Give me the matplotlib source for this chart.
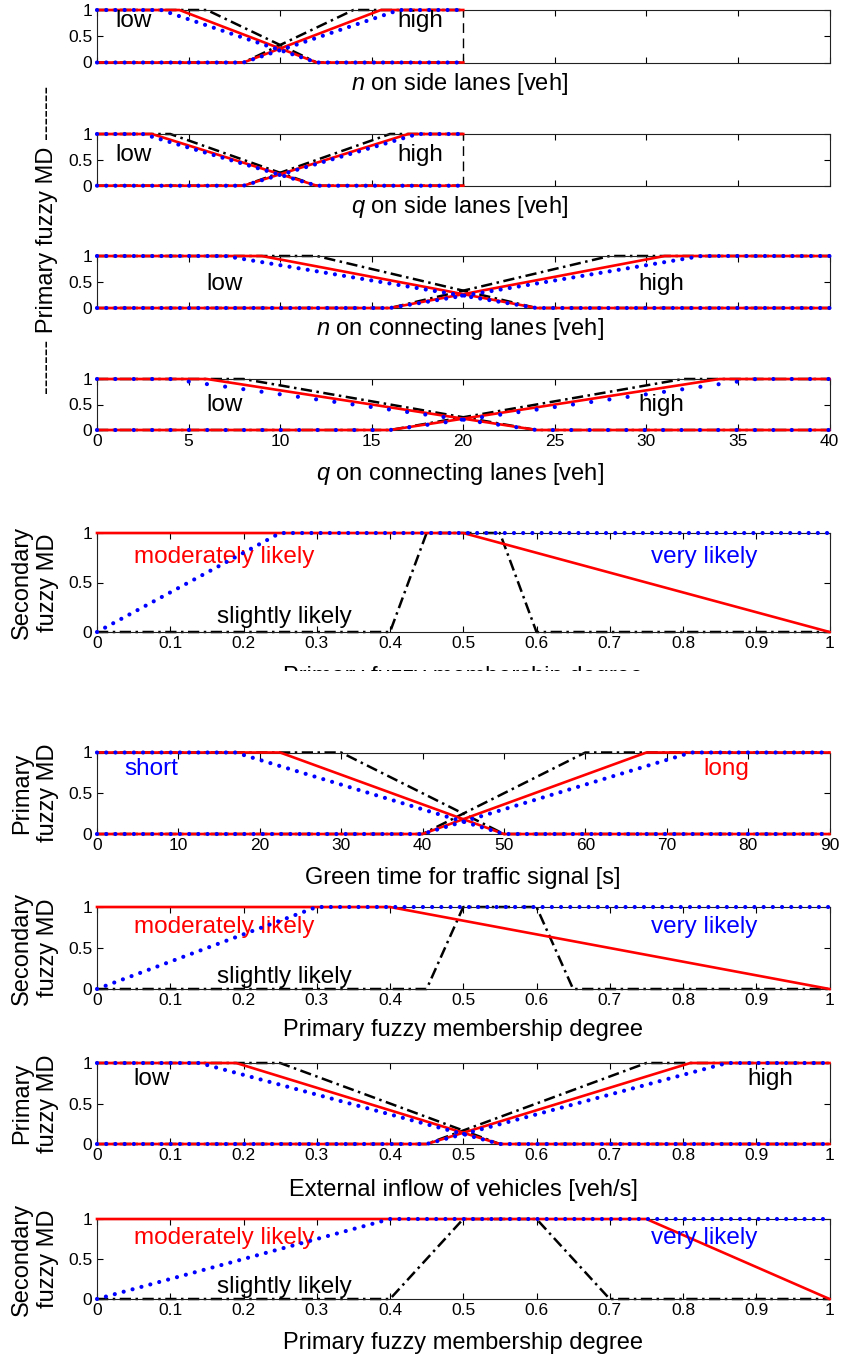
import matplotlib
matplotlib.use("Agg")
import matplotlib.pyplot as plt
from matplotlib.patches import Rectangle

plt.rcParams['font.family'] = ['Liberation Sans', 'DejaVu Sans']
plt.rcParams['mathtext.fontset'] = 'custom'
plt.rcParams['mathtext.it'] = 'Liberation Sans:italic'
plt.rcParams['mathtext.rm'] = 'Liberation Sans'

W, H = 841, 1359

# primary MFs: low = (end of plateau at 1, reaches 0), high = (leaves 0, reaches 1)
n_side_low = {'black': (6, 12), 'red': (4.5, 12), 'blue': (3.5, 12)}
n_side_high = {'black': (8, 14), 'red': (8, 15.5), 'blue': (8, 16.5)}
q_side_low = {'black': (4, 12), 'red': (3, 12), 'blue': (2.5, 12)}
q_side_high = {'black': (8, 16), 'red': (8, 17), 'blue': (8, 17.5)}
n_conn_low = {'black': (12, 24), 'red': (9, 24), 'blue': (7, 24)}
n_conn_high = {'black': (16, 28), 'red': (16, 31), 'blue': (16, 33)}
q_conn_low = {'black': (8, 24), 'red': (6, 24), 'blue': (4, 24)}
q_conn_high = {'black': (16, 32), 'red': (16, 34), 'blue': (16, 36)}
green_low = {'black': (30, 50), 'red': (22.5, 50), 'blue': (17, 50)}
green_high = {'black': (40, 60), 'red': (40, 67.5), 'blue': (40, 73)}
inflow_low = {'black': (0.25, 0.55), 'red': (0.19, 0.55), 'blue': (0.14, 0.55)}
inflow_high = {'black': (0.45, 0.75), 'red': (0.45, 0.81), 'blue': (0.45, 0.86)}

# secondary MFs (x, y breakpoints)
sec_a_red = ([0, 0.5, 1], [1, 1, 0])
sec_a_blue = ([0, 0.25, 1], [0, 1, 1])
sec_a_black = ([0, 0.4, 0.45, 0.55, 0.6, 1], [0, 0, 1, 1, 0, 0])
sec_b_red = ([0, 0.4, 1], [1, 1, 0])
sec_b_blue = ([0, 0.3, 1], [0, 1, 1])
sec_b_black = ([0, 0.45, 0.5, 0.6, 0.65, 1], [0, 0, 1, 1, 0, 0])
sec_c_red = ([0, 0.75, 1], [1, 1, 0])
sec_c_blue = ([0, 0.4, 1], [0, 1, 1])
sec_c_black = ([0, 0.4, 0.5, 0.6, 0.7, 1], [0, 0, 1, 1, 0, 0])

ticks_40 = [0, 5, 10, 15, 20, 25, 30, 35, 40]
ticks_90 = [0, 10, 20, 30, 40, 50, 60, 70, 80, 90]
ticks_1 = [0, 0.1, 0.2, 0.3, 0.4, 0.5, 0.6, 0.7, 0.8, 0.9, 1]
ticks_1_lbl = ['0', '0.1', '0.2', '0.3', '0.4', '0.5', '0.6', '0.7', '0.8', '0.9', '1']

RED = '#ff0000'
BLUE = '#0000ff'

fig = plt.figure(figsize=(W / 100, H / 100), dpi=100)


def make_ax(top, bottom):
    ax = fig.add_axes([97 / W, 1 - bottom / H, 732.5 / W, (bottom - top) / H])
    ax.set_ylim(0, 1)
    ax.set_yticks([0, 0.5, 1])
    ax.set_yticklabels(['0', '0.5', '1'])
    ax.tick_params(direction='in', top=True, right=True, length=4, width=0.8,
                   labelsize=12.5, pad=3)
    ax.tick_params(axis='y', pad=3.5)
    for s in ax.spines.values():
        s.set_linewidth(0.8)
        s.set_color('#222222')
    return ax


def black_line(ax, x, y):
    ax.plot(x, y, color='black', lw=1.8, ls=(0, (4.5, 1.8, 1, 1.8)), zorder=2, clip_on=False)


def red_line(ax, x, y):
    ax.plot(x, y, color=RED, lw=1.9, zorder=3, clip_on=False)


def blue_line(ax, x, y, gap=2.2):
    ax.plot(x, y, color=BLUE, lw=3, ls=(0, (0.01, gap)), dash_capstyle='round',
            zorder=4, clip_on=False)


def primary(ax, low, high, x0, x1, gap=2.2):
    for c in ['black', 'red', 'blue']:
        a, b = low[c]
        c0, d = high[c]
        xl, yl = [x0, a, b, x1], [1, 1, 0, 0]
        xh, yh = [x0, c0, d, x1], [0, 0, 1, 1]
        if c == 'blue':
            blue_line(ax, xl, yl, gap)
            blue_line(ax, xh, yh, gap)
        elif c == 'red':
            red_line(ax, xl, yl)
            red_line(ax, xh, yh)
        else:
            black_line(ax, xl, yl)
            black_line(ax, xh, yh)


def secondary(ax, red, blue, black):
    black_line(ax, *black)
    red_line(ax, *red)
    blue_line(ax, *blue, gap=2.2)
    ax.set_xlim(0, 1)
    ax.set_xticks(ticks_1)
    ax.set_xticklabels(ticks_1_lbl)
    ax.text(0.05, 0.76, 'moderately likely', color=RED, fontsize=17.5,
            transform=ax.transAxes, va='center')
    ax.text(0.756, 0.76, 'very likely', color=BLUE, fontsize=17.5,
            transform=ax.transAxes, va='center')
    ax.text(0.164, 0.15, 'slightly likely', color='black', fontsize=17.5,
            transform=ax.transAxes, va='center')


def fig_text(x, y, s, **kw):
    fig.text(x / W, 1 - y / H, s, ha='center', va='center', fontsize=17, **kw)


# panels 1-4: primary MFs on lanes
boxes = [(10, 62.5), (134, 185.7), (256, 308), (379, 430)]
lows = [n_side_low, q_side_low, n_conn_low, q_conn_low]
highs = [n_side_high, q_side_high, n_conn_high, q_conn_high]
ends = [20, 20, 40, 40]
gaps = [2.2, 2.2, 2.2, 4.4]
label_pos = [(0.025, 0.79, 0.41), (0.025, 0.59, 0.41), (0.15, 0.47, 0.739), (0.15, 0.49, 0.739)]
xlabels = ['$n$ on side lanes [veh]', '$q$ on side lanes [veh]',
           '$n$ on connecting lanes [veh]', '$q$ on connecting lanes [veh]']
xlabel_y = [84, 207, 329, 474]
for i in range(4):
    ax = make_ax(*boxes[i])
    primary(ax, lows[i], highs[i], 0, ends[i], gaps[i])
    ax.set_xlim(0, 40)
    ax.set_xticks(ticks_40)
    if i < 3:
        ax.set_xticklabels([])
    if ends[i] == 20:
        ax.plot([20, 20], [0, 1], color='black', lw=1, ls=(0, (7, 4)), zorder=1)
    lx, ly, hx = label_pos[i]
    ax.text(lx, ly, 'low', fontsize=17.5, transform=ax.transAxes, va='center')
    ax.text(hx, ly, 'high', fontsize=17.5, transform=ax.transAxes, va='center')
    fig_text(460, xlabel_y[i], xlabels[i])

fig_text(47, 240, '------- Primary fuzzy MD -------', rotation=90)

# panel 5: secondary MFs
ax = make_ax(533, 632)
secondary(ax, sec_a_red, sec_a_blue, sec_a_black)
fig_text(35, 582.5, 'Secondary\nfuzzy MD', rotation=90)
fig_text(463, 677, 'Primary fuzzy membership degree')
fig.add_artist(Rectangle((0, 1 - 745 / H), 1, (745 - 671) / H, transform=fig.transFigure,
                         facecolor='white', edgecolor='none', zorder=10))

# panel 6: green time
ax = make_ax(752.5, 834)
primary(ax, green_low, green_high, 0, 90)
ax.set_xlim(0, 90)
ax.set_xticks(ticks_90)
ax.text(0.037, 0.8, 'short', color=BLUE, fontsize=17.5, transform=ax.transAxes, va='center')
ax.text(0.828, 0.8, 'long', color=RED, fontsize=17.5, transform=ax.transAxes, va='center')
fig_text(35, 793, 'Primary\nfuzzy MD', rotation=90)
fig_text(463, 878, 'Green time for traffic signal [s]')

# panel 7
ax = make_ax(907, 989)
secondary(ax, sec_b_red, sec_b_blue, sec_b_black)
fig_text(35, 948, 'Secondary\nfuzzy MD', rotation=90)
fig_text(463, 1030, 'Primary fuzzy membership degree')

# panel 8: external inflow
ax = make_ax(1063, 1144)
primary(ax, inflow_low, inflow_high, 0, 1)
ax.set_xlim(0, 1)
ax.set_xticks(ticks_1)
ax.set_xticklabels(ticks_1_lbl)
ax.text(0.05, 0.8, 'low', fontsize=17.5, transform=ax.transAxes, va='center')
ax.text(0.888, 0.8, 'high', fontsize=17.5, transform=ax.transAxes, va='center')
fig_text(35, 1103.5, 'Primary\nfuzzy MD', rotation=90)
fig_text(463, 1190, 'External inflow of vehicles [veh/s]')

# panel 9
ax = make_ax(1219, 1299)
secondary(ax, sec_c_red, sec_c_blue, sec_c_black)
fig_text(35, 1259, 'Secondary\nfuzzy MD', rotation=90)
fig_text(463, 1343, 'Primary fuzzy membership degree')

fig.savefig('out.png', dpi=100)
